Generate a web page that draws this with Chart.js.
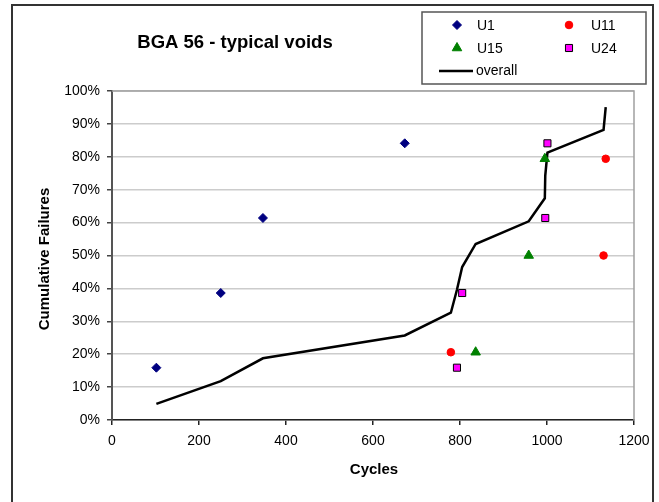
<!DOCTYPE html>
<html>
<head>
<meta charset="utf-8">
<script src="https://cdn.jsdelivr.net/npm/chart.js@4.4.1/dist/chart.umd.min.js"></script>
<style>
  html, body { margin: 0; padding: 0; background: #fff; }
  #wrap { width: 659px; height: 502px; position: relative; }
</style>
</head>
<body>
<div id="wrap"><canvas id="c" width="659" height="502"></canvas></div>
<script>
// Data (cycles, cumulative failures in %)
const u1Cycles = [102, 250, 347, 673];
const u1Fail = [15.9, 38.6, 61.4, 84.1];
const u11Cycles = [779, 1130, 1135];
const u11Fail = [20.6, 50.0, 79.4];
const u15Cycles = [836, 958, 995];
const u15Fail = [20.6, 50.0, 79.4];
const u24Cycles = [793, 805, 996, 1001];
const u24Fail = [15.9, 38.6, 61.4, 84.1];
const overallCycles = [102, 250, 347, 673, 779, 793, 805, 836, 958, 995, 996, 1001, 1130, 1135];
const overallFail = [4.9, 11.8, 18.75, 25.7, 32.6, 39.6, 46.5, 53.5, 60.4, 67.4, 74.3, 81.25, 88.2, 95.1];
const xTicks = [0, 200, 400, 600, 800, 1000, 1200];
const yTicks = [0, 10, 20, 30, 40, 50, 60, 70, 80, 90, 100];

const chartTitle = 'BGA 56 - typical voids';
const xTitle = 'Cycles';
const yTitle = 'Cumulative Failures';

function pts(xs, ys) { return xs.map((x, i) => ({ x: x, y: ys[i] })); }

const FONT = 'Arial, "Liberation Sans", sans-serif';

const datasets = [
  { label: 'U1', data: pts(u1Cycles, u1Fail), showLine: false, pointStyle: 'rectRot', pointRadius: 4.5,
    backgroundColor: '#000080', borderColor: '#000080', borderWidth: 1, order: 1 },
  { label: 'U11', data: pts(u11Cycles, u11Fail), showLine: false, pointStyle: 'circle', pointRadius: 3.8,
    backgroundColor: '#ff0000', borderColor: '#ff0000', borderWidth: 1, order: 1 },
  { label: 'U15', data: pts(u15Cycles, u15Fail), showLine: false, pointStyle: 'triangle', pointRadius: 5.5,
    backgroundColor: '#008000', borderColor: '#008000', borderWidth: 1, order: 1 },
  { label: 'U24', data: pts(u24Cycles, u24Fail), showLine: false, pointStyle: 'rect', pointRadius: 5,
    backgroundColor: '#ff00ff', borderColor: '#000000', borderWidth: 1, order: 1 },
  { label: 'overall', data: pts(overallCycles, overallFail), showLine: true, pointRadius: 0,
    borderColor: '#000000', backgroundColor: '#000000', borderWidth: 2.5, tension: 0, order: 2 }
];

const decor = {
  id: 'decor',
  beforeDatasetsDraw(chart) {
    const ctx = chart.ctx, a = chart.chartArea;
    ctx.save();
    ctx.strokeStyle = '#a0a0a0';
    ctx.lineWidth = 1.5;
    ctx.beginPath();
    ctx.moveTo(a.left, a.top);
    ctx.lineTo(a.right, a.top);
    ctx.lineTo(a.right, a.bottom);
    ctx.stroke();
    ctx.restore();
  },
  afterDraw(chart) {
    const ctx = chart.ctx, a = chart.chartArea;
    ctx.save();
    // outer frame
    ctx.strokeStyle = '#333333';
    ctx.lineWidth = 2;
    ctx.strokeRect(12, 5, 641, 510);
    // title
    ctx.fillStyle = '#000';
    ctx.font = 'bold 18.5px ' + FONT;
    ctx.textAlign = 'center';
    ctx.textBaseline = 'middle';
    ctx.fillText(chartTitle, 235, 43);
    // axis titles
    ctx.font = 'bold 15px ' + FONT;
    ctx.fillText(xTitle, 374, 470);
    ctx.save();
    ctx.translate(45, 259);
    ctx.rotate(-Math.PI / 2);
    ctx.fillText(yTitle, 0, 0);
    ctx.restore();
    // legend box
    ctx.fillStyle = '#fff';
    ctx.fillRect(422, 12, 224, 72);
    ctx.strokeStyle = '#555';
    ctx.lineWidth = 1.5;
    ctx.strokeRect(422, 12, 224, 72);
    ctx.font = '14px ' + FONT;
    ctx.textAlign = 'left';
    ctx.fillStyle = '#000';
    const items = [
      { ds: 0, mx: 457, tx: 477, y: 25 },
      { ds: 1, mx: 569, tx: 591, y: 25 },
      { ds: 2, mx: 457, tx: 477, y: 48 },
      { ds: 3, mx: 569, tx: 591, y: 48 }
    ];
    items.forEach(it => {
      const d = chart.data.datasets[it.ds];
      ctx.fillStyle = d.backgroundColor;
      ctx.strokeStyle = d.borderColor;
      ctx.lineWidth = d.borderWidth;
      Chart.helpers.drawPoint(ctx, { pointStyle: d.pointStyle, radius: d.pointRadius, rotation: 0, borderWidth: d.borderWidth }, it.mx, it.y);
      ctx.fillStyle = '#000';
      ctx.fillText(d.label, it.tx, it.y + 1);
    });
    const ov = chart.data.datasets[4];
    ctx.strokeStyle = '#000';
    ctx.lineWidth = 2.5;
    ctx.beginPath();
    ctx.moveTo(439, 71);
    ctx.lineTo(473, 71);
    ctx.stroke();
    ctx.fillStyle = '#000';
    ctx.fillText(ov.label, 476, 71);
    ctx.restore();
  }
};

new Chart(document.getElementById('c'), {
  type: 'scatter',
  data: { datasets: datasets },
  options: {
    responsive: false,
    animation: false,
    devicePixelRatio: 1,
    layout: { padding: { top: 91, right: 25, left: 0, bottom: 0 } },
    plugins: { legend: { display: false }, title: { display: false }, tooltip: { enabled: false } },
    scales: {
      x: {
        type: 'linear', min: 0, max: 1200,
        afterBuildTicks(s) { s.ticks = xTicks.map(v => ({ value: v })); },
        afterFit(s) { s.height = 82; },
        ticks: { color: '#000', font: { family: FONT, size: 14 }, padding: 8, maxRotation: 0, autoSkip: false,
          callback: v => String(v) },
        grid: { drawOnChartArea: false, drawTicks: true, tickLength: 5, tickColor: '#222', lineWidth: 1.5 },
        border: { color: '#222', width: 1.5 }
      },
      y: {
        type: 'linear', min: 0, max: 100,
        afterBuildTicks(s) { s.ticks = yTicks.map(v => ({ value: v })); },
        afterFit(s) { s.width = 112; },
        ticks: { color: '#000', font: { family: FONT, size: 14 }, padding: 7, autoSkip: false,
          callback: v => v + '%' },
        grid: { color: '#cccccc', lineWidth: 1.5, drawTicks: true, tickLength: 5, tickColor: '#444' },
        border: { color: '#555', width: 2 }
      }
    }
  },
  plugins: [decor]
});
</script>
</body>
</html>
